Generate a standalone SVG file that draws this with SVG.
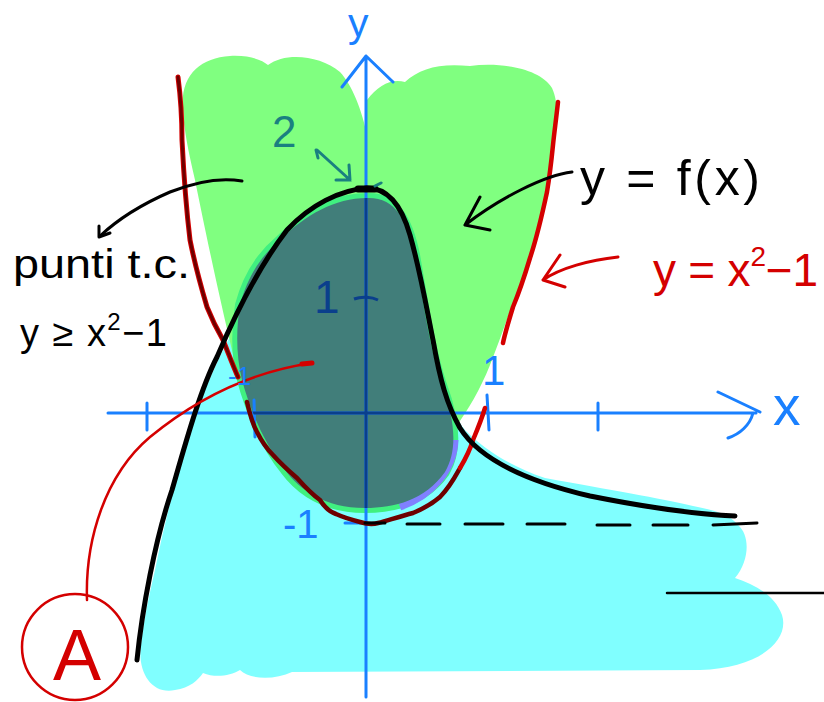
<svg xmlns="http://www.w3.org/2000/svg" xmlns:xlink="http://www.w3.org/1999/xlink" width="824" height="702" viewBox="0 0 824 702">
<style>
.ax{stroke:#1a80ff;stroke-width:3;fill:none;stroke-linecap:round;stroke-linejoin:round}
.axd{stroke:#0a3f8c;stroke-width:3;fill:none}
.blk{stroke:#000;fill:none;stroke-linecap:round;stroke-linejoin:round}
.red{stroke:#d40000;fill:none;stroke-linecap:round;stroke-linejoin:round}
.mar{stroke:#6e0000;fill:none;stroke-linecap:round;stroke-linejoin:round}
.t{font-family:"Liberation Sans","DejaVu Sans",sans-serif}
</style>
<defs>
<path id="blobp" d="M 367 198 C 395 197, 408 220, 415 255 C 423 300, 430 350, 442 385 C 455 420, 458 450, 445 472 C 425 500, 395 508, 365 508 C 325 508, 300 490, 285 470 C 265 445, 250 410, 242 380 C 236 355, 236 330, 240 305 C 248 275, 262 255, 280 240 C 305 215, 335 198, 367 198 Z"/>
<clipPath id="blobclip"><use xlink:href="#blobp"/></clipPath>
</defs>
<rect width="824" height="702" fill="#fff"/>

<g id="regions">
<path id="cyan" fill="#80ffff" d="M 240 318 C 225 345, 205 385, 192 425 C 178 470, 165 520, 155 570 C 148 600, 143 625, 141 645 C 137 672, 152 695, 175 690 C 190 688, 198 680, 203 673 C 215 678, 230 676, 240 670 C 250 680, 275 680, 292 672 L 700 670 C 760 668, 790 640, 782 615 C 775 595, 755 585, 735 578 C 750 560, 750 535, 738 525 C 730 515, 715 510, 693 506 C 660 498, 610 490, 545 478 C 510 466, 485 450, 465 430 C 455 418, 450 400, 445 390 L 300 250 Z"/>
<path id="green" fill="#80ff80" d="M 183 110 C 180 75, 200 58, 230 56 C 250 55, 262 60, 268 65 C 285 52, 320 55, 340 72 C 352 85, 362 110, 367 135 L 367 100 C 378 85, 392 78, 405 82 C 420 68, 440 63, 470 66 C 500 62, 540 68, 552 88 C 560 105, 557 130, 552 160 C 545 210, 535 250, 520 285 C 510 310, 500 340, 490 365 C 480 390, 468 410, 455 428 L 420 480 L 300 480 C 275 440, 250 400, 238 375 C 222 310, 205 230, 195 180 C 188 150, 184 130, 183 110 Z"/>
<use xlink:href="#blobp" fill="none" stroke="#40f080" stroke-width="10"/>
<path fill="none" stroke="#8080ff" stroke-width="7" d="M 455 440 C 454 470, 432 496, 400 507"/>
<use id="blob" xlink:href="#blobp" fill="#417e7a"/>
</g>

<g id="axes">
<path class="ax" d="M 366 697 L 366 56 M 342 87 L 366 56 L 393 82"/>
<path class="ax" d="M 108 413 L 756 413 M 718 392 L 760 412 M 753 413 C 750 425, 740 434, 728 438"/>
<path class="ax" d="M 147 403 L 147 430 M 254 400 L 255 437 M 487 395 L 489 430 M 598 403 L 598 430"/>
<path class="ax" d="M 345 523 L 363 523"/>
<g clip-path="url(#blobclip)">
<path class="axd" d="M 366 150 L 366 520 M 200 413 L 480 413"/>
</g>
<path class="axd" d="M 354 299 C 362 296, 372 297, 378 300"/>
</g>

<g id="curves">
<path class="red" stroke-width="5" d="M 178 77 C 181 100, 182 125, 182 140 C 184 180, 187 215, 190 240 C 196 270, 202 290, 207 307 C 213 322, 219 333, 223 340 C 229 355, 234 368, 238 377"/>
<path class="mar" stroke-width="3" d="M 178 77 C 181 100, 182 125, 182 140 C 184 180, 187 215, 190 240 C 196 270, 202 290, 207 307 C 213 322, 219 333, 223 340 C 229 355, 234 368, 238 377"/>
<path class="mar" stroke-width="4.5" d="M 247 402 C 250 415, 253 425, 257 432 C 262 442, 268 450, 273 455 C 282 465, 290 472, 297 478 C 305 487, 313 495, 320 500 C 325 508, 330 512, 336 514 C 345 518, 352 520, 360 522 C 366 524, 372 525, 378 523 C 392 519, 402 516, 413 513 C 425 508, 433 503, 440 497 C 450 487, 455 477, 460 468"/>
<path class="red" stroke-width="4.5" d="M 460 468 C 466 458, 470 450, 473 440 C 478 428, 482 418, 485 408"/>
<path class="red" stroke-width="4.5" d="M 558 102 C 556 120, 554 135, 553 145 C 551 165, 549 180, 547 192 C 541 220, 536 240, 530 258 C 524 278, 518 295, 513 307 C 509 320, 505 333, 503 343"/>
<path class="blk" stroke-width="5" d="M 137 660 C 142 610, 155 540, 172 490 C 185 445, 200 390, 217 357 C 235 315, 260 265, 287 230 C 310 205, 340 190, 367 188 C 385 188, 400 200, 410 235 C 420 270, 425 300, 433 340 C 440 380, 447 405, 460 428 C 480 460, 530 482, 590 496 C 640 506, 690 514, 735 516"/>
<path class="blk" stroke-width="7" d="M 358 189 L 375 189"/>
<path class="blk" stroke-width="3" d="M 365 523 L 385 523 M 407 524 L 440 524 M 465 524 L 503 524 M 527 524 L 565 524 M 597 525 L 630 525 M 653 525 L 688 525 M 713 525 L 757 523"/>
<path class="blk" stroke-width="2.5" d="M 667 593 L 824 593"/>
</g>

<g id="connectors">
<path class="blk" stroke-width="3" d="M 242 181 C 225 178, 200 180, 170 192 C 140 205, 115 222, 100 236"/>
<path class="blk" stroke-width="3" d="M 99 226 L 99 237 L 110 233"/>
<path class="blk" stroke-width="3" d="M 572 172 C 545 175, 500 198, 465 225 M 480 197 L 465 225 L 490 230"/>
<path class="red" stroke-width="3" d="M 618 257 C 590 260, 560 268, 543 280 M 560 255 L 543 280 L 565 287"/>
<path class="red" stroke-width="2.5" d="M 87 600 C 85 540, 105 475, 150 437 C 195 400, 250 372, 312 363"/>
<path class="red" stroke-width="5" d="M 302 364 L 312 363"/>
<path fill="none" stroke="#1a8080" stroke-width="3" stroke-linecap="round" d="M 317 150 L 350 180 M 316 150 L 318 158 M 336 180 L 350 180 L 349 165"/>
<path fill="none" stroke="#1a8080" stroke-width="3" stroke-linecap="round" d="M 375 186 L 381 183"/>
</g>

<g id="labels">
<text class="t" x="13" y="278" font-size="40" textLength="177" lengthAdjust="spacingAndGlyphs">punti t.c.</text>
<text class="t" x="20" y="346" font-size="38" textLength="147" lengthAdjust="spacing">y ≥ x<tspan font-size="24" dy="-16">2</tspan><tspan dy="16">−1</tspan></text>
<text class="t" x="580" y="195" font-size="50" textLength="180" lengthAdjust="spacing">y = f(x)</text>
<text class="t" x="653" y="286" font-size="46" fill="#d40000" textLength="165" lengthAdjust="spacing">y = x<tspan font-size="28" dy="-20">2</tspan><tspan dy="20">−1</tspan></text>
<circle cx="75" cy="647" r="53" fill="none" stroke="#d40000" stroke-width="2.5"/>
<text class="t" x="77" y="680" font-size="72" fill="#d40000" text-anchor="middle">A</text>
<text class="t" x="348" y="37" font-size="41" fill="#1a80ff">y</text>
<text class="t" x="773" y="425" font-size="55" fill="#1a80ff">x</text>
<text class="t" x="272" y="147" font-size="44" fill="#1a8080">2</text>
<text class="t" x="314" y="313" font-size="46" fill="#0a3f8c">1</text>
<text class="t" x="482" y="385" font-size="42" fill="#1a80ff">1</text>
<text class="t" x="228" y="385" font-size="26" fill="#1a80ff">-1</text>
<text class="t" x="283" y="538" font-size="40" fill="#1a80ff">-1</text>
</g>
</svg>
